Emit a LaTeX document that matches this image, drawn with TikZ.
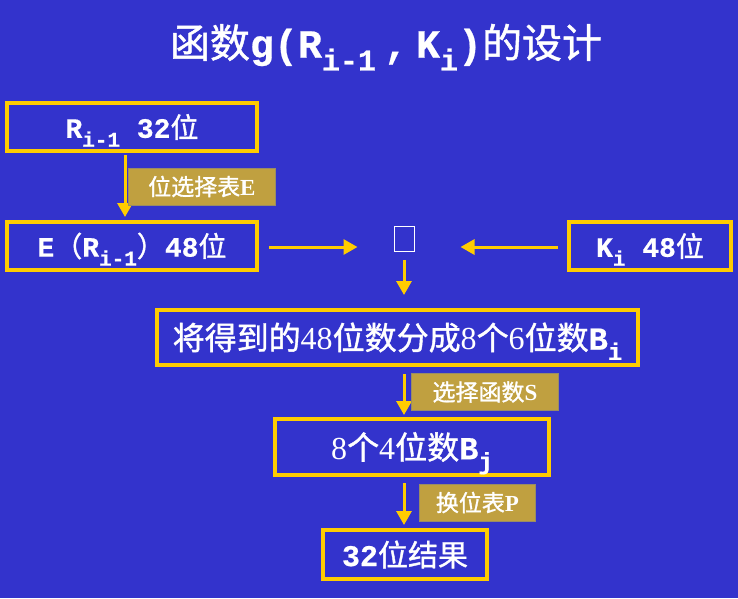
\documentclass[tikz,border=0pt]{standalone}
\usepackage{fontspec}
\setmainfont{Liberation Serif}
\newfontfamily\cjk[FakeBold=1.2]{Noto Sans CJK SC}
\newfontfamily\cour[FakeBold=0.6]{Liberation Mono}
\usetikzlibrary{arrows.meta}

\definecolor{slideblue}{RGB}{51,51,204}
\definecolor{boxgold}{RGB}{255,204,0}
\definecolor{tagfill}{RGB}{192,160,64}

% index set below the line, without changing the line height
\newcommand{\lowidx}[1]{\raisebox{-0.32em}[0pt][0pt]{\scalebox{0.75}{#1}}}
\newcommand{\fsz}[1]{\fontsize{#1}{#1}\selectfont}

\begin{document}
\begin{tikzpicture}[x=1pt, y=-1pt,
    stage/.style={draw=boxgold, line width=4pt, fill=slideblue, text=white, inner sep=0pt},
    tag/.style={fill=tagfill, draw=gray!60!tagfill, line width=0.8pt, text=white,
        inner sep=0pt, minimum height=37pt, font=\fsz{23}},
    flow/.style={draw=boxgold, line width=3pt, -{Triangle[width=15pt,length=14pt]}}]
    % slide background
    \fill[slideblue] (0,0) rectangle (738,598);
    \useasboundingbox (0,0) rectangle (738,598);

    % Title
    \node[text=white, font=\fsz{40}] (title) at (386,45)
        {{\cjk 函数}{\cour\bfseries g(R\lowidx{i-1}\hspace{8pt},\hspace{8pt}K\lowidx{i})}{\cjk 的设计}};

    % Inputs
    \node[stage, minimum width=250pt, minimum height=48pt, font=\fsz{28}] (inR) at (132,127)
        {{\cour\bfseries R\lowidx{i-1} 32}{\cjk 位}};
    \node[stage, minimum width=250pt, minimum height=48pt, font=\fsz{28}] (inE) at (132,246)
        {{\cour\bfseries E}{\cjk （}{\cour\bfseries R\lowidx{i-1}}{\cjk ）}{\cour\bfseries 48}{\cjk 位}};
    \node[stage, minimum width=162pt, minimum height=48pt, font=\fsz{28}] (inK) at (650,246)
        {{\cour\bfseries K\lowidx{i} 48}{\cjk 位}};
    \node[draw=white, line width=1pt, minimum width=20pt, minimum height=25pt, inner sep=0pt] (op) at (404,239) {};

    % Stages
    \node[stage, minimum width=481pt, minimum height=55pt, font=\fsz{32}] (split) at (397.5,337.5)
        {{\cjk 将得到的}48{\cjk 位数分成}8{\cjk 个}6{\cjk 位数}{\cour\bfseries B\lowidx{i}}};
    \node[stage, minimum width=274pt, minimum height=56pt, font=\fsz{32}] (sbox) at (412,447)
        {8{\cjk 个}4{\cjk 位数}{\cour\bfseries B\lowidx{j}}};
    \node[stage, minimum width=164pt, minimum height=49pt, font=\fsz{30}] (result) at (405,554.5)
        {{\cour\bfseries 32}{\cjk 位结果}};

    % Connectors
    \draw[flow, shorten <=2pt, shorten >=3pt] ([xshift=-7pt]inR.south) -- ([xshift=-7pt]inE.north)
        node[tag, midway, anchor=west, xshift=3pt, minimum width=147pt] {{\cjk 位选择表}\textbf{E}};
    \draw[flow, shorten <=10pt, shorten >=36pt] ([yshift=-1pt]inE.east) -- ([yshift=-1pt]inE.east -| op.west);
    \draw[flow, shorten <=9pt, shorten >=46pt] ([yshift=-1pt]inK.west) -- ([yshift=-1pt]inK.west -| op.east);
    \draw[flow, shorten <=8pt, shorten >=13pt] (op.south) -- (op.south |- split.north);
    \draw[flow, shorten <=7pt, shorten >=2pt] (op.south |- split.south) -- (op.south |- sbox.north)
        node[tag, midway, anchor=west, xshift=7pt, minimum width=147pt] {{\cjk 选择函数}\textbf{S}};
    \draw[flow, shorten <=6pt, shorten >=3pt] (op.south |- sbox.south) -- (op.south |- result.north)
        node[tag, midway, anchor=west, xshift=15pt, minimum width=116pt] {{\cjk 换位表}\textbf{P}};
\end{tikzpicture}
\end{document}
